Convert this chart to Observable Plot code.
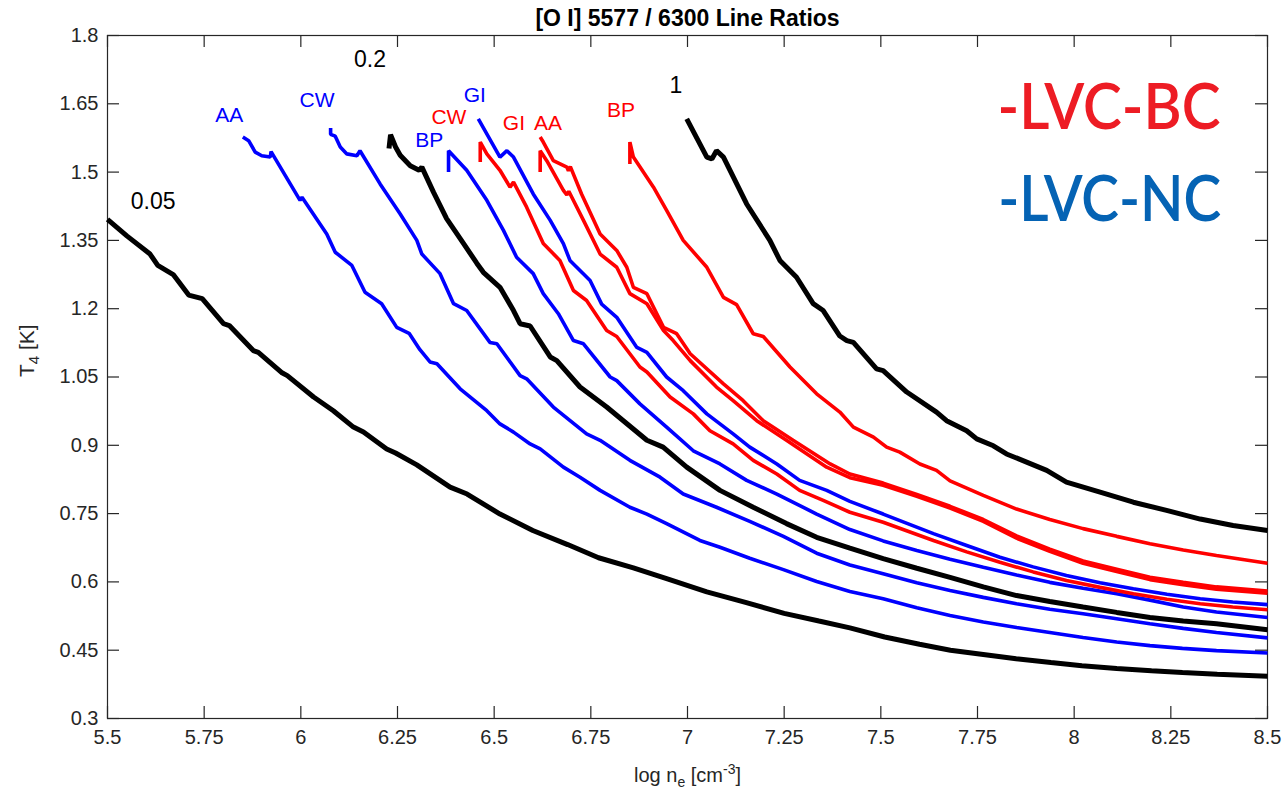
<!DOCTYPE html>
<html>
<head>
<meta charset="utf-8">
<script src="https://cdn.jsdelivr.net/npm/d3@7"></script>
<script src="https://cdn.jsdelivr.net/npm/@observablehq/plot@0.6"></script>
<style>
  body { margin: 0; background: #fff; }
  #chart { width: 1285px; height: 792px; }
</style>
</head>
<body>
<div id="chart"></div>
<script>
// ---------- tick values and labels ----------
const xTicks = [5.5, 5.75, 6, 6.25, 6.5, 6.75, 7, 7.25, 7.5, 7.75, 8, 8.25, 8.5];
const xTickLabels = ["5.5", "5.75", "6", "6.25", "6.5", "6.75", "7", "7.25", "7.5", "7.75", "8", "8.25", "8.5"];
const yTicks = [0.3, 0.45, 0.6, 0.75, 0.9, 1.05, 1.2, 1.35, 1.5, 1.65, 1.8];
const yTickLabels = ["0.3", "0.45", "0.6", "0.75", "0.9", "1.05", "1.2", "1.35", "1.5", "1.65", "1.8"];

// ---------- model curves (black): [log ne, T4] ----------
const model_005 = [[5.5,1.396],[5.55,1.36],[5.61,1.32],[5.63,1.295],[5.67,1.275],[5.71,1.23],[5.745,1.222],[5.80,1.167],[5.815,1.163],[5.877,1.108],[5.89,1.104],[5.95,1.06],[5.965,1.053],[6.033,1.006],[6.084,0.976],[6.136,0.94],[6.162,0.929],[6.222,0.892],[6.245,0.883],[6.30,0.857],[6.386,0.808],[6.43,0.793],[6.515,0.749],[6.60,0.713],[6.69,0.682],[6.77,0.653],[6.86,0.631],[6.95,0.606],[7.05,0.578],[7.15,0.555],[7.25,0.531],[7.34,0.514],[7.42,0.499],[7.51,0.479],[7.60,0.463],[7.68,0.45],[7.77,0.44],[7.85,0.431],[7.94,0.423],[8.02,0.416],[8.11,0.41],[8.2,0.405],[8.28,0.401],[8.37,0.397],[8.5,0.393]];
const model_02 = [[6.228,1.552],[6.232,1.582],[6.245,1.555],[6.257,1.537],[6.283,1.514],[6.306,1.504],[6.313,1.511],[6.343,1.456],[6.377,1.398],[6.421,1.343],[6.455,1.300],[6.472,1.280],[6.515,1.247],[6.550,1.196],[6.567,1.167],[6.593,1.162],[6.645,1.094],[6.662,1.086],[6.722,1.028],[6.791,0.984],[6.834,0.954],[6.895,0.911],[6.937,0.896],[6.998,0.852],[7.084,0.801],[7.170,0.764],[7.256,0.728],[7.334,0.698],[7.420,0.674],[7.506,0.651],[7.593,0.630],[7.679,0.610],[7.765,0.589],[7.851,0.570],[7.937,0.557],[8.023,0.545],[8.110,0.533],[8.196,0.522],[8.282,0.514],[8.368,0.508],[8.5,0.495]];
const model_1 = [[6.998,1.617],[7.050,1.533],[7.063,1.529],[7.075,1.547],[7.093,1.533],[7.153,1.430],[7.213,1.350],[7.239,1.306],[7.282,1.269],[7.325,1.211],[7.351,1.196],[7.394,1.140],[7.412,1.130],[7.429,1.126],[7.489,1.068],[7.506,1.064],[7.567,1.017],[7.644,0.973],[7.670,0.954],[7.722,0.932],[7.748,0.914],[7.791,0.899],[7.825,0.881],[7.877,0.863],[7.929,0.845],[7.980,0.819],[8.067,0.797],[8.153,0.775],[8.239,0.757],[8.326,0.738],[8.411,0.724],[8.5,0.713]];

// ---------- LVC-NC curves (blue) ----------
const nc_AA = [[5.850,1.577],[5.865,1.569],[5.882,1.544],[5.899,1.536],[5.921,1.533],[5.923,1.545],[5.998,1.438],[6.003,1.445],[6.067,1.364],[6.089,1.324],[6.132,1.295],[6.166,1.236],[6.209,1.211],[6.248,1.159],[6.280,1.146],[6.308,1.110],[6.334,1.083],[6.352,1.079],[6.412,1.024],[6.481,0.976],[6.515,0.947],[6.550,0.929],[6.593,0.903],[6.619,0.892],[6.679,0.852],[6.722,0.830],[6.774,0.801],[6.851,0.764],[6.895,0.749],[6.946,0.728],[7.032,0.691],[7.084,0.676],[7.161,0.652],[7.248,0.627],[7.334,0.601],[7.420,0.579],[7.506,0.563],[7.593,0.543],[7.679,0.526],[7.765,0.512],[7.851,0.500],[7.937,0.489],[8.023,0.478],[8.11,0.468],[8.196,0.460],[8.28,0.454],[8.368,0.449],[8.5,0.444]];
const nc_CW = [[6.077,1.597],[6.077,1.583],[6.089,1.579],[6.102,1.555],[6.119,1.540],[6.145,1.536],[6.153,1.547],[6.205,1.474],[6.257,1.408],[6.300,1.350],[6.313,1.320],[6.360,1.277],[6.395,1.211],[6.429,1.196],[6.489,1.126],[6.507,1.123],[6.567,1.053],[6.584,1.046],[6.653,0.984],[6.739,0.925],[6.774,0.911],[6.851,0.867],[6.929,0.830],[6.989,0.793],[7.075,0.764],[7.161,0.733],[7.248,0.700],[7.334,0.663],[7.420,0.637],[7.506,0.618],[7.593,0.598],[7.679,0.581],[7.765,0.566],[7.851,0.552],[7.937,0.540],[8.023,0.530],[8.110,0.519],[8.196,0.508],[8.282,0.498],[8.368,0.489],[8.5,0.477]];
const nc_BP = [[6.382,1.500],[6.382,1.547],[6.429,1.504],[6.481,1.438],[6.524,1.372],[6.558,1.313],[6.601,1.277],[6.627,1.233],[6.666,1.189],[6.705,1.130],[6.731,1.123],[6.800,1.050],[6.817,1.042],[6.877,0.991],[6.946,0.940],[7.015,0.888],[7.084,0.859],[7.153,0.823],[7.231,0.793],[7.334,0.749],[7.420,0.715],[7.506,0.690],[7.593,0.669],[7.679,0.650],[7.765,0.632],[7.851,0.615],[7.937,0.599],[8.023,0.586],[8.110,0.574],[8.196,0.560],[8.282,0.545],[8.368,0.534],[8.5,0.522]];
const nc_GI = [[6.459,1.617],[6.515,1.533],[6.533,1.547],[6.550,1.533],[6.601,1.452],[6.645,1.394],[6.679,1.343],[6.696,1.306],[6.748,1.262],[6.778,1.210],[6.817,1.181],[6.869,1.115],[6.895,1.104],[6.946,1.050],[6.989,1.020],[7.050,0.969],[7.118,0.925],[7.161,0.896],[7.231,0.859],[7.290,0.823],[7.360,0.801],[7.420,0.777],[7.506,0.749],[7.636,0.706],[7.722,0.680],[7.808,0.654],[7.894,0.633],[7.980,0.614],[8.067,0.598],[8.153,0.585],[8.24,0.573],[8.326,0.563],[8.41,0.556],[8.5,0.550]];

// ---------- LVC-BC curves (red) ----------
const bc_CW = [[6.464,1.522],[6.464,1.566],[6.481,1.540],[6.515,1.504],[6.541,1.467],[6.550,1.478],[6.584,1.423],[6.627,1.343],[6.670,1.306],[6.705,1.240],[6.739,1.218],[6.791,1.152],[6.817,1.139],[6.877,1.072],[6.895,1.061],[6.955,1.006],[7.015,0.969],[7.058,0.932],[7.118,0.903],[7.170,0.867],[7.231,0.837],[7.290,0.801],[7.351,0.779],[7.420,0.753],[7.506,0.731],[7.636,0.691],[7.722,0.666],[7.808,0.643],[7.894,0.622],[7.980,0.603],[8.067,0.588],[8.153,0.574],[8.24,0.562],[8.326,0.552],[8.41,0.545],[8.5,0.539]];
const bc_GI = [[6.619,1.500],[6.619,1.547],[6.636,1.525],[6.679,1.460],[6.688,1.450],[6.693,1.458],[6.731,1.394],[6.774,1.320],[6.817,1.291],[6.851,1.233],[6.895,1.211],[6.938,1.152],[6.963,1.130],[7.007,1.086],[7.075,1.028],[7.118,0.998],[7.179,0.954],[7.256,0.911],[7.360,0.852],[7.420,0.829],[7.506,0.812],[7.593,0.788],[7.679,0.762],[7.765,0.733],[7.851,0.696],[7.937,0.667],[8.023,0.641],[8.110,0.623],[8.196,0.605],[8.282,0.594],[8.368,0.584],[8.5,0.575]];
const bc_AA = [[6.619,1.577],[6.627,1.566],[6.653,1.525],[6.688,1.511],[6.692,1.503],[6.697,1.512],[6.726,1.452],[6.774,1.364],[6.817,1.328],[6.843,1.291],[6.860,1.247],[6.895,1.233],[6.938,1.159],[6.972,1.145],[7.007,1.101],[7.093,1.035],[7.144,0.998],[7.196,0.954],[7.273,0.911],[7.369,0.859],[7.420,0.837],[7.506,0.817],[7.593,0.792],[7.679,0.766],[7.765,0.737],[7.851,0.701],[7.937,0.672],[8.023,0.646],[8.110,0.628],[8.196,0.610],[8.282,0.599],[8.368,0.589],[8.5,0.580]];
const bc_BP = [[6.851,1.518],[6.851,1.566],[6.860,1.533],[6.912,1.467],[6.946,1.416],[6.989,1.350],[7.050,1.291],[7.093,1.225],[7.127,1.209],[7.170,1.145],[7.196,1.139],[7.265,1.072],[7.334,1.013],[7.394,0.973],[7.429,0.940],[7.481,0.918],[7.515,0.896],[7.549,0.885],[7.601,0.859],[7.644,0.845],[7.679,0.822],[7.765,0.790],[7.851,0.760],[7.937,0.737],[8.023,0.717],[8.110,0.700],[8.196,0.684],[8.282,0.670],[8.368,0.658],[8.5,0.641]];

// ---------- curve labels (text, anchor in data units, group) ----------
const curveLabels = [
  {text: "0.05", x: 5.618, y: 1.435, group: "model"},
  {text: "0.2",  x: 6.179, y: 1.747, group: "model"},
  {text: "1",    x: 6.970, y: 1.690, group: "model"},
  {text: "AA",   x: 5.815, y: 1.624, group: "NC"},
  {text: "CW",   x: 6.042, y: 1.657, group: "NC"},
  {text: "BP",   x: 6.332, y: 1.569, group: "NC"},
  {text: "GI",   x: 6.450, y: 1.668, group: "NC"},
  {text: "CW",   x: 6.383, y: 1.620, group: "BC"},
  {text: "GI",   x: 6.551, y: 1.607, group: "BC"},
  {text: "AA",   x: 6.639, y: 1.607, group: "BC"},
  {text: "BP",   x: 6.828, y: 1.635, group: "BC"}
];
const legendItems = [
  {text: "-LVC-BC", x: 8.090, y: 1.639, group: "BClegend"},
  {text: "-LVC-NC", x: 8.092, y: 1.438, group: "NClegend"}
];

const titleText = "[O I] 5577 / 6300 Line Ratios";
const xLabelText = "log n_e [cm^-3]";
const yLabelText = "T_4 [K]";

// ---------- build tables ----------
const curves = [
  {id: "0.05", group: "model", pts: model_005},
  {id: "0.2", group: "model", pts: model_02},
  {id: "1", group: "model", pts: model_1},
  {id: "NC AA", group: "NC", pts: nc_AA},
  {id: "NC CW", group: "NC", pts: nc_CW},
  {id: "NC BP", group: "NC", pts: nc_BP},
  {id: "NC GI", group: "NC", pts: nc_GI},
  {id: "BC CW", group: "BC", pts: bc_CW},
  {id: "BC GI", group: "BC", pts: bc_GI},
  {id: "BC AA", group: "BC", pts: bc_AA},
  {id: "BC BP", group: "BC", pts: bc_BP}
];
const rows = curves.flatMap(c => c.pts.map(([x, y]) => ({x, y, id: c.id, group: c.group})));
const blackRows = rows.filter(d => d.group === "model");
const colorRows = rows.filter(d => d.group !== "model");

const colors = {model: "#000000", NC: "#0000ff", BC: "#ff0000", BClegend: "#ed1c24", NClegend: "#0563b4"};
const axisColor = "#262626";
const xLabelMap = new Map(xTicks.map((t, i) => [t, xTickLabels[i]]));
const yLabelMap = new Map(yTicks.map((t, i) => [t, yTickLabels[i]]));

const W = 1285, H = 792, mT = 35, mB = 74, mL = 107, mR = 18;
const innerW = W - mL - mR, innerH = H - mT - mB;
const font = "'Liberation Sans', Arial, Helvetica, sans-serif";

const chart = Plot.plot({
  width: W, height: H,
  marginTop: mT, marginBottom: mB, marginLeft: mL, marginRight: mR,
  x: {domain: [5.5, 8.5]},
  y: {domain: [0.3, 1.8]},
  style: {fontFamily: font, background: "#fff", overflow: "visible"},
  marks: [
    Plot.frame({stroke: axisColor, strokeWidth: 1.2}),
    Plot.tickX(xTicks, {x: d => d, stroke: axisColor, strokeWidth: 1.2, insetTop: innerH - 12}),
    Plot.tickX(xTicks, {x: d => d, stroke: axisColor, strokeWidth: 1.2, insetBottom: innerH - 12}),
    Plot.tickY(yTicks, {y: d => d, stroke: axisColor, strokeWidth: 1.2, insetRight: innerW - 12}),
    Plot.tickY(yTicks, {y: d => d, stroke: axisColor, strokeWidth: 1.2, insetLeft: innerW - 12}),
    Plot.axisX({ticks: xTicks, tickFormat: d => xLabelMap.get(d), tickSize: 0, tickPadding: 11, fontSize: 20, color: axisColor, label: null}),
    Plot.axisY({ticks: yTicks, tickFormat: d => yLabelMap.get(d), tickSize: 0, tickPadding: 9, fontSize: 20, color: axisColor, label: null}),
    Plot.line(blackRows, {x: "x", y: "y", z: "id", stroke: colors.model, strokeWidth: 5, strokeLinejoin: "miter", strokeLinecap: "butt"}),
    Plot.line(colorRows, {x: "x", y: "y", z: "id", stroke: d => colors[d.group], strokeWidth: 3.6, strokeLinejoin: "miter", strokeLinecap: "butt"}),
    Plot.text(curveLabels, {x: "x", y: "y", text: "text", fill: d => colors[d.group], fontSize: d => d.group === "model" ? 23 : 21, lineAnchor: "middle", textAnchor: "middle"}),
    Plot.text(legendItems, {x: "x", y: "y", text: "text", fill: d => colors[d.group], fontSize: 64, fontWeight: "600", fontFamily: "Lato, 'Open Sans', sans-serif", lineAnchor: "middle", textAnchor: "middle"}),
    Plot.text([titleText], {frameAnchor: "top", dy: -17, text: d => d, fontSize: 23, fontWeight: "bold", fill: "#000", lineAnchor: "middle"}),
    Plot.text([xLabelText], {frameAnchor: "bottom", dy: 57, text: d => d, fontSize: 20, fill: axisColor, lineAnchor: "middle"}),
    Plot.text([yLabelText], {frameAnchor: "left", dx: -80, text: d => d, fontSize: 21, fill: axisColor, rotate: -90, lineAnchor: "middle"})
  ]
});

document.getElementById("chart").appendChild(chart);

// sub/superscripts on axis labels, and fit legend text widths
d3.select(chart).selectAll("text").each(function () {
  const t = this.textContent;
  if (t === xLabelText) {
    this.innerHTML = 'log n<tspan dy="5" font-size="14">e</tspan><tspan dy="-5"> [cm</tspan><tspan dy="-8" font-size="14">-3</tspan><tspan dy="8">]</tspan>';
  } else if (t === yLabelText) {
    this.innerHTML = 'T<tspan dy="5" font-size="15">4</tspan><tspan dy="-5"> [K]</tspan>';
  } else if (t === "-LVC-BC" || t === "-LVC-NC") {
    this.setAttribute("textLength", 223);
    this.setAttribute("lengthAdjust", "spacingAndGlyphs");
  }
});
</script>
</body>
</html>
